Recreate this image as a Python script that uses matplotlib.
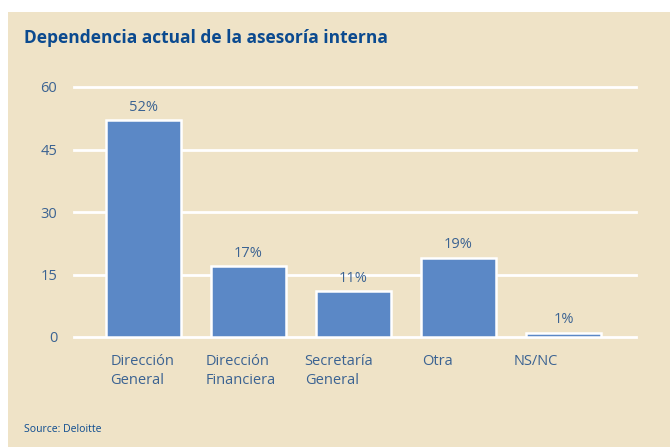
import matplotlib
matplotlib.use("Agg")
import matplotlib.pyplot as plt
import numpy as np
from matplotlib.patches import Rectangle

categories = ["Dirección\nGeneral", "Dirección\nFinanciera", "Secretaría\nGeneral", "Otra", "NS/NC"]
values = [52, 17, 11, 19, 1]
yticks = [0, 15, 30, 45, 60]

BG = "#efe3c7"
BAR = "#5b88c6"
TXT = "#3b6392"
TITLE = "#0b4a8f"

plt.rcParams['font.family'] = ['Open Sans', 'DejaVu Sans']

fig = plt.figure(figsize=(6.7, 4.47), dpi=100)
fig.patch.set_facecolor("white")
bg = Rectangle((8/670, 0), 1, (447-12)/447, transform=fig.transFigure,
               facecolor=BG, edgecolor="none", zorder=-10)
fig.add_artist(bg)

ax = fig.add_axes([74/670, (447-337)/447, 562/670, 250/447])
ax.set_zorder(5)
ax.set_facecolor("none")
x = np.arange(len(values))
ax.bar(x, values, width=0.714, color=BAR, edgecolor="white", linewidth=1.8, zorder=3)
for xi, v in zip(x, values):
    ax.text(xi, v + 1.3, f"{v}%", ha="center", va="bottom", color=TXT, fontsize=10.5, zorder=4)

ax.set_xlim(-0.662, 4.69)
ax.set_ylim(0, 60)
for t in yticks:
    ax.axhline(t, color="white", linewidth=2, zorder=1, clip_on=False)
ax.set_yticks(yticks)
ax.set_yticklabels([str(t) for t in yticks], color=TXT, fontsize=10.5)
ax.tick_params(axis="y", length=0, pad=12)
ax.set_xticks(x * 0.936 - 0.01)
ax.set_xticklabels(categories, color=TXT, fontsize=10.5, multialignment="left", linespacing=1.35)
ax.tick_params(axis="x", length=0, pad=12)
for s in ax.spines.values():
    s.set_visible(False)

fig.text(24/670, 1 - 38/447, "Dependencia actual de la asesoría interna", color=TITLE,
         fontsize=12.5, fontweight="bold", ha="left", va="center")
fig.text(24/670, 1 - 430/447, "Source: Deloitte", color=TITLE, fontsize=7.5, ha="left", va="center")

fig.savefig("out.png", dpi=100, facecolor=fig.get_facecolor())
